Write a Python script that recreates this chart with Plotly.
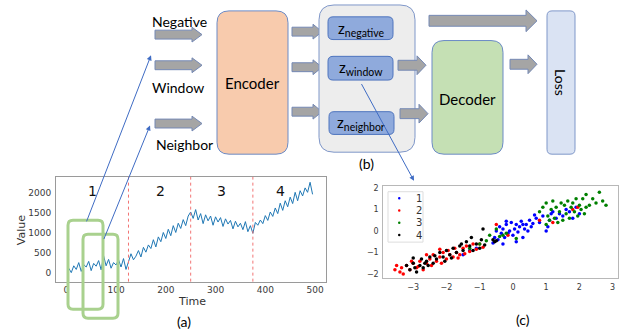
import plotly.graph_objects as go

W, H = 623, 335

# ---------------- data ----------------
time_vals = list(range(5, 500, 5))
series_vals = [
    120, 10, 180, 90, 260, 40, 210, 150, 290, 60, 240, 170, 310, 80, 430, 180, 340, 120, 260, 200,
    330, 150, 360, 90, 280,
    480, 330, 420, 560, 400, 640, 520, 700, 610, 830, 650, 900, 780, 1010, 860, 1090, 930, 1180,
    1010, 1240, 1110, 1330, 1180, 1420, 1520,
    1360, 1580, 1320, 1480, 1230, 1450, 1300, 1420, 1190, 1400, 1270, 1380, 1160, 1350, 1220, 1310,
    1100, 1290, 1150, 1240, 1080, 1280, 1030, 1180, 990,
    1260, 1190, 1320, 1230, 1430, 1310, 1520, 1410, 1620, 1480, 1740, 1560, 1800, 1650, 1890, 1730,
    2010, 1800, 2050, 1920, 2120, 2010, 2260, 1960,
]
segment_bounds = [125, 250, 375]
segment_labels = ["1", "2", "3", "4"]
segment_label_x = [53, 190, 311, 430]
time_ticks = [0, 100, 200, 300, 400, 500]
value_ticks = [0, 500, 1000, 1500, 2000]

cluster_names = ["1", "2", "3", "4"]
cluster_colors = ["#0000ff", "#ff0000", "#008000", "#000000"]
c1_x = [-0.55, -0.5, -0.45, -0.4, -0.35, -0.3, -0.25, -0.2, -0.15, -0.1, -0.05, 0.0, 0.05, 0.1, 0.15, 0.2,
        0.25, 0.3, 0.35, 0.4, 0.45, 0.5, 0.55, 0.6, 0.7, 0.8, 0.9, 1.0, 1.05, 1.1, 1.2, 1.3, 1.4, 1.5,
        1.6, 1.7, 1.8, 1.9, 2.0, -0.3, 0.1, -1.3, -1.5, -1.1, -0.6, 0.3, -0.2, 0.65, 1.15]
c1_y = [-0.3, 0.0, -0.4, 0.2, -0.1, 0.1, -0.3, 0.3, -0.1, 0.0, 0.4, -0.2, 0.1, 0.3, -0.05, 0.2,
        0.45, -0.3, 0.1, 0.3, 0.0, 0.5, 0.2, 0.35, 0.6, 0.4, 0.7, 0.0, 0.2, 0.5, 0.9, 0.6, 0.8, 0.7,
        1.0, 0.9, 0.6, 1.1, 0.8, -0.6, -0.5, -0.9, -1.1, -0.8, -0.55, 0.3, 0.45, 0.75, 0.8]
c2_x = [-3.55, -3.5, -3.4, -3.35, -3.3, -3.2, -3.1, -3.0, -2.9, -2.8, -2.7, -2.6, -2.5, -2.45, -2.4,
        -2.3, -2.2, -2.15, -2.1, -2.0, -1.95, -1.9, -1.8, -1.75, -1.7, -1.6, -1.5, -1.45, -1.4, -1.3,
        -1.2, -1.1, -1.0, -0.9, -2.6, -2.2, -1.65, -2.85, -3.05, 0.8, 1.8, 1.95, -0.5, -0.15, 1.2]
c2_y = [-1.8, -1.6, -1.9, -1.7, -2.0, -1.6, -1.8, -1.5, -1.7, -1.4, -1.8, -1.5, -1.3, -1.6, -1.1,
        -1.4, -1.2, -1.5, -1.0, -1.3, -0.9, -1.1, -1.2, -0.8, -1.0, -1.1, -0.8, -1.05, -0.7, -0.95,
        -0.6, -0.85, -0.6, -0.75, -1.1, -0.85, -1.25, -1.65, -1.4, 0.5, 1.0, 1.1, 0.3, -0.2, 0.4]
c3_x = [0.8, 0.9, 1.0, 1.05, 1.1, 1.15, 1.2, 1.25, 1.3, 1.35, 1.4, 1.45, 1.5, 1.55, 1.6, 1.65, 1.7,
        1.75, 1.8, 1.85, 1.9, 1.95, 2.0, 2.05, 2.1, 2.15, 2.2, 2.3, 2.4, 2.5, 2.6, 2.7, 2.8, 2.2, 1.0,
        -0.4, -0.2, -0.5, 0.1, -1.0, -0.3, -0.8, -1.3, -0.7]
c3_y = [0.9, 1.1, 1.3, 0.7, 0.5, 1.0, 1.4, 0.6, 1.1, 0.4, 0.9, 1.3, 0.5, 1.2, 0.8, 1.4, 0.6,
        1.1, 1.3, 0.9, 1.5, 0.7, 1.2, 1.0, 1.5, 0.8, 1.7, 1.2, 1.5, 1.3, 1.8, 1.4, 1.2, 1.1, 0.3,
        -0.25, -0.1, 0.1, -0.35, -0.6, -0.2, -0.45, -0.8, -0.2]
c4_x = [-3.2, -3.1, -3.0, -2.95, -2.9, -2.8, -2.75, -2.7, -2.6, -2.55, -2.5, -2.4, -2.3, -2.2, -2.1,
        -2.0, -1.9, -1.8, -1.7, -1.6, -1.5, -1.4, -1.3, -1.2, -1.1, -1.0, -0.95, -0.9, -0.85, -0.6,
        -0.55, -1.55, -2.65, -2.35, -1.25, -0.5, -1.85, -3.0, -2.05]
c4_y = [-1.6, -1.8, -1.5, -1.7, -1.9, -1.6, -1.3, -1.7, -1.4, -1.6, -1.2, -1.5, -1.3, -1.0, -1.2,
        -0.9, -1.1, -0.8, -1.0, -0.7, -0.9, -0.5, -0.7, -0.9, -0.6, -0.8, -0.4, 0.1, -0.65, -0.4,
        -0.5, -0.6, -1.5, -1.15, -0.3, -0.45, -1.25, -1.25, -1.4]
cluster_xs = [c1_x, c2_x, c3_x, c4_x]
cluster_ys = [c1_y, c2_y, c3_y, c4_y]
scatter_ticks_x = [-3, -2, -1, 0, 1, 2, 3]
scatter_ticks_y = [-2, -1, 0, 1, 2]

# ---------------- helpers (pixel -> paper) ----------------
def X(p):
    return p / W

def Y(p):
    return 1 - p / H

def rrect_path(x0, y0, x1, y1, r):
    pts = [
        f"M {X(x0 + r)} {Y(y0)}",
        f"L {X(x1 - r)} {Y(y0)}",
        f"Q {X(x1)} {Y(y0)} {X(x1)} {Y(y0 + r)}",
        f"L {X(x1)} {Y(y1 - r)}",
        f"Q {X(x1)} {Y(y1)} {X(x1 - r)} {Y(y1)}",
        f"L {X(x0 + r)} {Y(y1)}",
        f"Q {X(x0)} {Y(y1)} {X(x0)} {Y(y1 - r)}",
        f"L {X(x0)} {Y(y0 + r)}",
        f"Q {X(x0)} {Y(y0)} {X(x0 + r)} {Y(y0)}",
        "Z",
    ]
    return " ".join(pts)

def arrow_path(x0, x1, yc, bh, hh, hl):
    xh = x1 - hl
    pts = [(x0, yc - bh), (xh, yc - bh), (xh, yc - hh), (x1, yc), (xh, yc + hh), (xh, yc + bh), (x0, yc + bh)]
    s = "M " + " L ".join(f"{X(a)} {Y(b)}" for a, b in pts) + " Z"
    return s

shapes = []
annotations = []

def rbox(x0, y0, x1, y1, r, fill, line, lw=1, layer="below"):
    shapes.append(dict(type="path", path=rrect_path(x0, y0, x1, y1, r), xref="paper", yref="paper",
                       fillcolor=fill, line=dict(color=line, width=lw), layer=layer))

def barrow(x0, x1, yc, bh=4.5, hh=7.5, hl=10):
    shapes.append(dict(type="path", path=arrow_path(x0, x1, yc, bh, hh, hl), xref="paper", yref="paper",
                       fillcolor="#A5A5A5", line=dict(color="#7589B5", width=1), layer="below"))

def text(x, y, t, size=14, color="#000000", angle=0, family="Lato", xanchor="center"):
    annotations.append(dict(x=X(x), y=Y(y), xref="paper", yref="paper", text=t, showarrow=False,
                            font=dict(size=size, color=color, family=family), textangle=angle,
                            xanchor=xanchor, yanchor="middle"))

def blue_arrow(hx, hy, tx, ty):
    annotations.append(dict(x=X(hx), y=Y(hy), xref="paper", yref="paper", text="", showarrow=True,
                            ax=tx - hx, ay=ty - hy, axref="pixel", ayref="pixel",
                            arrowhead=2, arrowsize=1, arrowwidth=1, arrowcolor="#3F6CC4", standoff=0))

# ---------------- diagram (b) ----------------
text(179, 19, "Negative", 14)
text(178, 86, "Window", 14)
text(184, 143, "Neighbor", 14)
barrow(155, 202, 32)
barrow(155, 202, 63)
barrow(155, 202, 122)

rbox(217, 8, 288, 153, 12, "#F8CBAD", "#6C8BC6")
text(252, 81, "Encoder", 15)

barrow(292, 322, 29, 4.5, 7.5, 9)
barrow(292, 322, 65, 4.5, 7.5, 9)
barrow(292, 322, 110, 4.5, 7.5, 9)

rbox(319, 2, 415, 151, 15, "#EDEDED", "#7F97C9")
rbox(328, 14, 393, 37, 5, "#8FAADC", "#4E74BE")
rbox(328, 54, 393, 78, 5, "#8FAADC", "#4E74BE")
rbox(329, 110, 394, 133, 5, "#8FAADC", "#4E74BE")
text(361, 26, "z<sub>negative</sub>", 15)
text(361, 66, "z<sub>window</sub>", 15)
text(361, 121, "z<sub>neighbor</sub>", 15)
text(366, 162, "(b)", 14)

barrow(429, 537, 18, 5.5, 11, 11)
barrow(398, 426, 63, 5, 9.5, 9)
barrow(400, 428, 112, 5, 9.5, 9)
rbox(432, 38, 503, 153, 12, "#C5E0B4", "#6C8BC6")
text(467, 97, "Decoder", 15)
barrow(510, 537, 62, 5, 9.5, 9)
rbox(547, 8, 575, 153, 5, "#DAE3F3", "#7F97C9")
text(561, 80, "Loss", 14, angle=90)

# ---------------- captions ----------------
text(184, 322, "(a)", 14)
text(523, 320, "(c)", 14)

# ---------------- figure ----------------
fig = go.Figure()
fig.add_trace(go.Scatter(x=time_vals, y=series_vals, mode="lines", line=dict(color="#1f77b4", width=1),
                         xaxis="x", yaxis="y", showlegend=False, hoverinfo="skip"))
for name, col, xs, ys in zip(cluster_names, cluster_colors, cluster_xs, cluster_ys):
    fig.add_trace(go.Scatter(x=xs, y=ys, mode="markers", name=name,
                             marker=dict(color=col, size=3.5, line=dict(width=0)),
                             xaxis="x2", yaxis="y2", showlegend=False, hoverinfo="skip"))

# red dashed segment boundaries
for b in segment_bounds:
    shapes.append(dict(type="line", xref="x", yref="y domain", x0=b, x1=b, y0=0, y1=1,
                       line=dict(color="#F27474", width=1, dash="dot"), layer="above"))
for lab, lx in zip(segment_labels, segment_label_x):
    annotations.append(dict(x=lx, y=0.87, xref="x", yref="y domain", text=lab, showarrow=False,
                            font=dict(size=14, color="#111111", family="DejaVu Sans"),
                            xanchor="center", yanchor="middle"))

# green windows
rbox(68, 220, 103, 310, 5, "rgba(0,0,0,0)", "#A9D18E", lw=3, layer="above")
rbox(83, 234, 118, 319, 5, "rgba(0,0,0,0)", "#A9D18E", lw=3, layer="above")

# axis titles of (a)
text(192, 302, "Time", 11, color="#333333", family="DejaVu Sans")
text(21, 230, "Value", 11, color="#333333", angle=-90, family="DejaVu Sans")

# manual legend for (c)
shapes.append(dict(type="rect", xref="paper", yref="paper", x0=X(388), x1=X(423), y0=Y(191), y1=Y(242),
                   fillcolor="white", line=dict(color="#dddddd", width=1), layer="above"))
for i, (name, col) in enumerate(zip(cluster_names, cluster_colors)):
    yy = 197.7 + i * 12.4
    shapes.append(dict(type="circle", xref="paper", yref="paper", x0=X(398), x1=X(400.5),
                       y0=Y(yy - 1.25), y1=Y(yy + 1.25), fillcolor=col, line=dict(width=0), layer="above"))
    text(414, yy, name, 10, color="#333333", family="DejaVu Sans", xanchor="left")

# blue connector lines
blue_arrow(151, 53, 86, 220.5)
blue_arrow(150, 124, 103.3, 239)
blue_arrow(414, 180, 360.7, 81.7)

axis_font = dict(family="DejaVu Sans", size=9, color="#3a3a3a")
fig.update_layout(
    width=W, height=H, margin=dict(l=0, r=0, t=0, b=0),
    paper_bgcolor="white", plot_bgcolor="white", showlegend=False,
    xaxis=dict(domain=[X(56), X(326)], range=[-20.7, 522], tickvals=time_ticks, showgrid=False,
               zeroline=False, showline=True, mirror=True, linecolor="#9a9a9a", linewidth=1,
               ticks="", tickfont=axis_font, anchor="y"),
    yaxis=dict(domain=[Y(282), Y(176)], range=[-214, 2394], tickvals=value_ticks, showgrid=False,
               zeroline=False, showline=True, mirror=True, linecolor="#9a9a9a", linewidth=1,
               ticks="outside", ticklen=2, tickcolor="rgba(0,0,0,0)", tickfont=axis_font, anchor="x"),
    xaxis2=dict(domain=[X(383.3), X(618.3)], range=[-3.9, 3.17], tickvals=scatter_ticks_x, showgrid=False,
                zeroline=False, showline=True, mirror=True, linecolor="#b8b8b8", linewidth=1,
                ticks="outside", ticklen=1, tickcolor="rgba(0,0,0,0)",
                tickfont=dict(family="DejaVu Sans", size=8, color="#3a3a3a"), anchor="y2"),
    yaxis2=dict(domain=[Y(278.3), Y(185.7)], range=[-2.18, 2.07], tickvals=scatter_ticks_y, showgrid=False,
                zeroline=False, showline=True, mirror=True, linecolor="#b8b8b8", linewidth=1,
                ticks="outside", ticklen=2, tickcolor="rgba(0,0,0,0)",
                tickfont=dict(family="DejaVu Sans", size=8, color="#3a3a3a"), anchor="x2"),
    shapes=shapes, annotations=annotations,
)
fig.write_html("out.html", config={"displayModeBar": False, "staticPlot": True},
               post_script="document.body.style.margin='0';document.body.style.padding='0';"
                           "document.documentElement.style.overflow='hidden';")
